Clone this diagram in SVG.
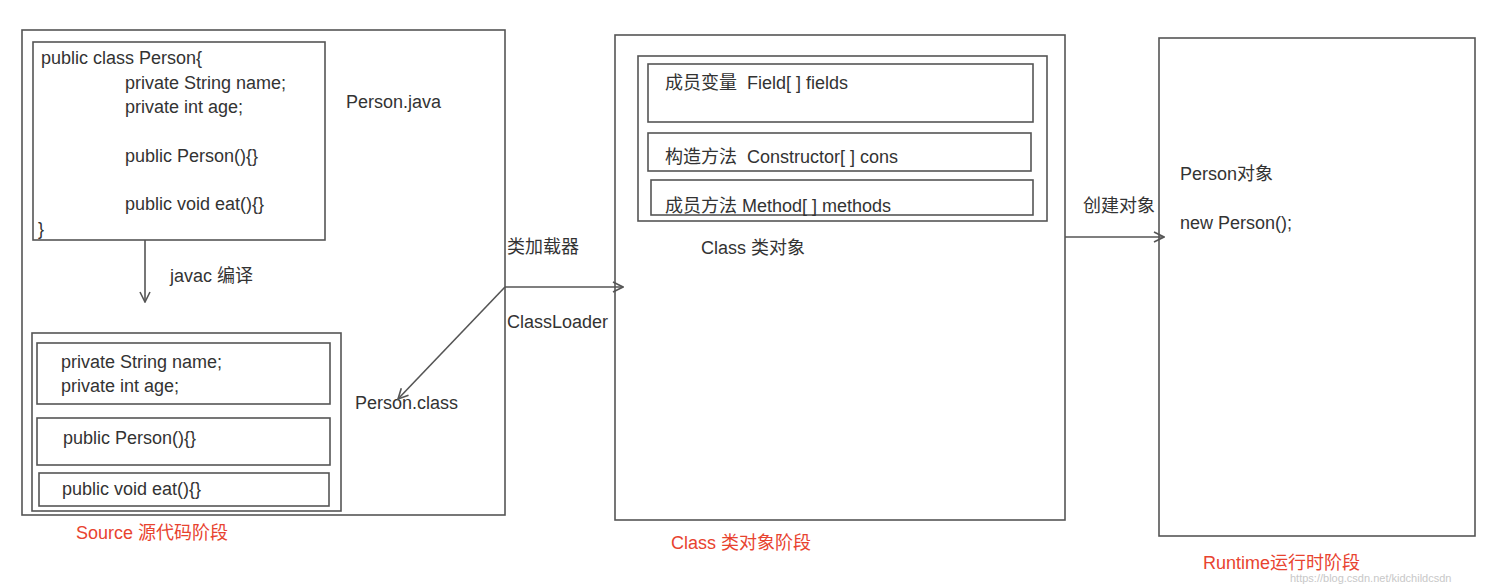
<svg xmlns="http://www.w3.org/2000/svg" width="1485" height="586" viewBox="0 0 1485 586">
<defs>
<style>
.box{fill:none;stroke:#555;stroke-width:1.6}
.t{font-family:"Liberation Sans","Noto Sans CJK SC",Arial,sans-serif;font-size:18px;fill:#333;white-space:pre}
.r{font-family:"Liberation Sans","Noto Sans CJK SC",Arial,sans-serif;font-size:18px;fill:#e8432f}
.w{font-family:"Liberation Sans",Arial,sans-serif;font-size:11px;fill:#c8c8c8}
.c{fill:none;stroke:#555;stroke-width:1.6}
</style>
<marker id="ah" viewBox="0 0 12 12" refX="11" refY="6" markerWidth="12" markerHeight="12" markerUnits="userSpaceOnUse" orient="auto">
<path d="M1,1 L11,6 L1,11" fill="none" stroke="#555" stroke-width="1.6"/>
</marker>
</defs>
<rect width="1485" height="586" fill="#fff"/>

<g id="source-stage">
<rect class="box" x="22" y="30" width="483" height="485"/>
<text class="r" x="76" y="539">Source 源代码阶段</text>
</g>

<g id="person-java">
<rect class="box" x="33" y="42" width="292" height="198"/>
<text class="t" x="41" y="64">public class Person{</text>
<text class="t" x="125" y="89">private String name;</text>
<text class="t" x="125" y="113">private int age;</text>
<text class="t" x="125" y="162">public Person(){}</text>
<text class="t" x="125" y="210">public void eat(){}</text>
<text class="t" x="38" y="235">}</text>
<text class="t" x="346" y="108">Person.java</text>
</g>

<g id="person-class">
<rect class="box" x="32" y="333" width="309" height="178"/>
<rect class="box" x="37" y="343" width="293" height="61"/>
<rect class="box" x="37" y="418" width="293" height="47"/>
<rect class="box" x="39" y="473" width="290" height="33"/>
<text class="t" x="61" y="368">private String name;</text>
<text class="t" x="61" y="392">private int age;</text>
<text class="t" x="63" y="444">public Person(){}</text>
<text class="t" x="62" y="495">public void eat(){}</text>
<text class="t" x="355" y="409">Person.class</text>
</g>

<g id="class-stage">
<rect class="box" x="615" y="35" width="450" height="485"/>
<rect class="box" x="638" y="56" width="409" height="165"/>
<rect class="box" x="648" y="64" width="385" height="58"/>
<rect class="box" x="648" y="133" width="383" height="38"/>
<rect class="box" x="651" y="180" width="382" height="35"/>
<text class="t" x="665" y="89">成员变量  Field[ ] fields</text>
<text class="t" x="665" y="163">构造方法  Constructor[ ] cons</text>
<text class="t" x="665" y="212">成员方法 Method[ ] methods</text>
<text class="t" x="701" y="254">Class 类对象</text>
<text class="r" x="671" y="549">Class 类对象阶段</text>
</g>

<g id="runtime-stage">
<rect class="box" x="1159" y="38" width="316" height="498"/>
<text class="t" x="1180" y="180">Person对象</text>
<text class="t" x="1180" y="229">new Person();</text>
<text class="r" x="1203" y="569">Runtime运行时阶段</text>
<text class="w" x="1290" y="582">https://blog.csdn.net/kidchildcsdn</text>
</g>

<g id="connectors">
<line class="c" x1="145" y1="240" x2="145" y2="302" marker-end="url(#ah)"/>
<text class="t" x="170" y="282">javac 编译</text>
<line class="c" x1="505" y1="287" x2="623" y2="287" marker-end="url(#ah)"/>
<line class="c" x1="505" y1="287" x2="398" y2="399" marker-end="url(#ah)"/>
<text class="t" x="507" y="253">类加载器</text>
<text class="t" x="507" y="328">ClassLoader</text>
<line class="c" x1="1065" y1="237" x2="1164" y2="237" marker-end="url(#ah)"/>
<text class="t" x="1083" y="212">创建对象</text>
</g>
</svg>
